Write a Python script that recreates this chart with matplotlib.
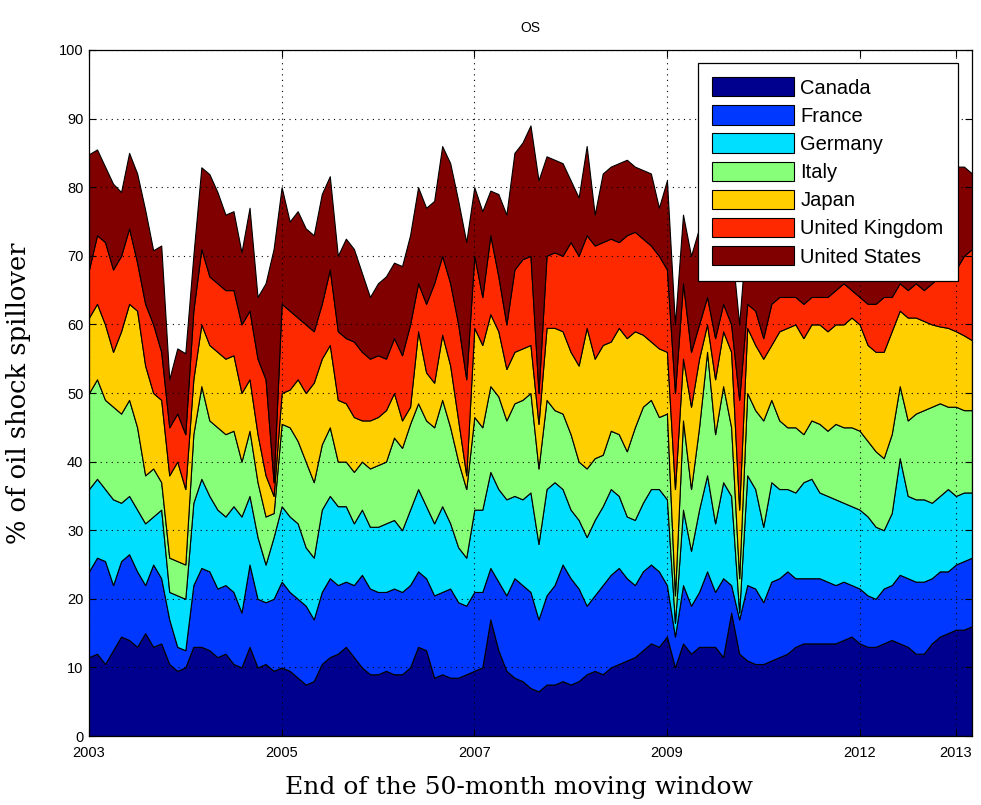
import numpy as np
import matplotlib
matplotlib.use("Agg")
import matplotlib.pyplot as plt

# ---- data: upper edge (cumulative %) of each band, monthly steps ----
countries = ["Canada", "France", "Germany", "Italy", "Japan", "United Kingdom", "United States"]
tick_pos = [0, 24, 48, 72, 96, 108]
tick_labels = ["2003", "2005", "2007", "2009", "2012", "2013"]

level_canada = [11.5, 12, 10.5, 12.5, 14.5, 14, 13, 15, 13, 13.5, 10.5, 9.5, 10, 13, 13, 12.5, 11.5, 12,
                10.5, 10, 13, 10, 10.5, 9.5, 10, 9.5, 8.5, 7.5, 8, 10.5, 11.5, 12, 13, 11.5, 10, 9, 9,
                9.5, 9, 9, 10, 13, 12.5, 8.5, 9, 8.5, 8.5, 9, 9.5, 10, 17, 12.5, 9.5, 8.5, 8, 7,
                6.5, 7.5, 7.5, 8, 7.5, 8, 9, 9.5, 9, 10, 10.5, 11, 11.5, 12.5, 13.5, 13, 14.5, 10,
                13.5, 12, 13, 13, 13, 11.5, 18, 12, 11, 10.5, 10.5, 11, 11.5, 12, 13, 13.5, 13.5, 13.5, 13.5,
                13.5, 14, 14.5, 13.5, 13, 13, 13.5, 14, 13.5, 13, 12, 12, 13.5, 14.5, 15, 15.5, 15.5, 16]
level_france = [24, 26, 25.5, 22, 25.5, 26.5, 24, 22, 25, 23, 17, 13, 12.5, 22, 24.5, 24, 21.5, 22,
                21, 18, 25, 20, 19.5, 20, 22.5, 21, 20, 19, 17, 21, 23, 22, 22.5, 22, 23.5, 21.5, 21,
                21, 21.5, 21, 22, 24, 23, 20.5, 21, 21.5, 19.5, 19, 21, 21, 24.5, 22.5, 20.5, 23, 22, 21,
                17, 20.5, 22, 25, 23, 21.5, 19, 20.5, 22, 23.5, 24.5, 23, 22, 24, 25, 24, 22, 14.5,
                22, 19, 21, 24, 21, 23, 22, 17, 22, 21.5, 19.5, 22.5, 23, 24, 23, 23, 23, 23, 22.5,
                22, 22.5, 22, 21.5, 20.5, 20, 21.5, 22, 23.5, 23, 22.5, 22.5, 23, 24, 24, 25, 25.5, 26]
level_germany = [36, 37.5, 36, 34.5, 34, 35, 33, 31, 32, 33, 21, 20.5, 20, 34, 37.5, 35, 33, 32,
                 33.5, 32, 35, 29, 25, 29, 33.5, 32, 31, 27.5, 26, 33, 35, 33.5, 33.5, 31, 33, 30.5, 30.5,
                 31, 31.5, 30, 33, 36, 33.5, 31, 33.5, 31, 27.5, 26, 33, 33, 38.5, 36, 34.5, 35, 34.5, 35.5,
                 28, 36, 37, 36, 33, 31.5, 29, 31.5, 33.5, 36, 35, 32, 31.5, 34, 36, 36, 34.5, 16.5,
                 33, 27, 33, 38, 31, 37, 35, 18, 38, 36, 30.5, 37, 36, 36, 35.5, 37, 37.5, 35.5, 35,
                 34.5, 34, 33.5, 33, 32, 30.5, 30, 32.5, 40.5, 35, 34.5, 34.5, 34, 35, 36, 35, 35.5, 35.5]
level_italy = [50, 52, 49, 48, 47, 49, 45, 38, 39, 37, 26, 25.5, 25, 44, 51, 46, 45, 44,
               44.5, 40, 44.5, 37, 32, 32.5, 45.5, 45, 43, 40, 37, 42.5, 45, 40, 40, 38.5, 40, 39, 39.5,
               40, 43.5, 42, 45.5, 48.5, 46, 45, 49, 45, 40, 36, 46.5, 45, 51, 49.5, 46, 48.5, 49, 50,
               39, 49, 47.5, 47, 44, 40, 39, 40.5, 41, 44.5, 44, 41.5, 45, 48, 49, 46.5, 47, 20.5,
               46, 36, 45, 56, 44, 51, 45, 23, 50, 47.5, 46, 49, 46, 45, 45, 44, 46, 45.5, 44.5,
               45.5, 45, 45, 44.5, 43, 41.5, 40.5, 44, 51, 46, 47, 47.5, 48, 48.5, 48, 48, 47.5, 47.5]
level_japan = [61, 63, 60, 56, 59, 63, 62, 54, 50, 49, 38, 40, 36, 52, 60, 57, 56, 55,
               55.5, 50, 52, 44, 38, 35, 50, 50.5, 52, 50, 51.5, 55, 57, 49, 48.5, 46.5, 46, 46, 46.5,
               47.5, 50, 46, 48, 59, 53, 51.5, 58.5, 54, 46, 38, 59.5, 57, 61.5, 59, 53.5, 56, 56.5, 57,
               45.5, 59.5, 59.5, 59, 56, 54, 59.5, 55, 57, 57.5, 59.5, 58, 59, 58.5, 57.5, 56.5, 56, 36,
               55, 48, 55, 60, 52, 59, 56, 33, 59.5, 57, 55, 57, 59, 59.5, 60, 58, 60, 60, 59,
               60, 60, 61, 60, 57, 56, 56, 59, 62, 61, 61, 60.5, 60, 59.7, 59.5, 59, 58.4, 57.7]
level_uk = [68, 73, 72, 68, 70, 74, 69, 63, 60, 56, 45, 47, 44, 62, 71, 67, 66, 65,
            65, 60, 62, 55, 52, 37, 63, 62, 61, 60, 59, 63, 68, 59, 58, 57.5, 56, 55, 55.5,
            55, 58, 55.5, 60, 66, 63, 66, 70, 66, 60, 52, 70, 64, 73, 67, 60, 68, 69.5, 70,
            50, 70, 70.5, 70, 72, 70, 73, 71.5, 72, 72.5, 72, 73, 73.5, 72.5, 71.5, 70, 68, 50,
            66, 56, 60, 64, 58, 63, 60, 49, 63, 62, 58, 63, 64, 64, 64, 63, 64, 64, 64,
            65, 66, 65, 64, 63, 63, 64, 64, 66, 65, 66, 65, 66, 67, 67, 68, 70, 71]
level_us = [84.8, 85.5, 83, 80.5, 79.3, 85, 82, 76.7, 70.8, 71.5, 52, 56.5, 55.8, 70, 82.9, 81.9, 79.3, 76,
            76.5, 70.5, 77, 64, 66, 71, 80, 75, 76.5, 74, 73, 79, 81.6, 70, 72.5, 71, 67.5, 64, 66,
            67, 69, 68.5, 73, 80, 77, 78, 86, 83.5, 78, 72, 80, 76.5, 79.5, 79, 76, 85, 86.5, 89,
            81, 84.5, 84, 83.5, 81, 78.5, 86, 76, 82, 83, 83.5, 84, 83, 82.5, 82, 77, 81, 60,
            76, 70, 74, 76, 74, 74, 72, 60, 75, 76, 75, 76, 77, 78, 77, 77, 77, 78, 78,
            78, 79, 78, 78, 77, 76, 77, 77, 79, 78, 79, 79, 80, 80, 81, 83, 83, 82]

levels = np.array([level_canada, level_france, level_germany, level_italy,
                   level_japan, level_uk, level_us])
shares = np.diff(np.vstack([np.zeros(levels.shape[1]), levels]), axis=0)
x = np.arange(levels.shape[1])

# MATLAB-style jet colours sampled across the seven bands
colors = [(0.0, 0.0, 0.5625), (0.0, 0.22, 1.0), (0.0, 0.875, 1.0), (0.53, 1.0, 0.47),
          (1.0, 0.81, 0.0), (1.0, 0.16, 0.0), (0.5, 0.0, 0.0)]

fig = plt.figure(figsize=(9.81, 8.05), dpi=100)
ax = fig.add_axes([0.0907, 0.0857, 0.9001, 0.8522])

polys = ax.stackplot(x, shares, labels=countries, colors=colors,
                     edgecolor="black", linewidth=0.8)

ax.set_xlim(0, x[-1])
ax.set_ylim(0, 100)
ax.set_xticks(tick_pos)
ax.set_xticklabels(tick_labels)
ax.set_yticks(np.arange(0, 101, 10))

for lab in ax.get_xticklabels() + ax.get_yticklabels():
    lab.set_fontfamily("Liberation Sans")
    lab.set_fontsize(10.5)

ax.tick_params(direction="in", length=5, width=0.8, top=True, right=True)
ax.tick_params(axis="x", pad=7)
ax.tick_params(axis="y", pad=4)
ax.grid(True, color="black", linestyle=(0, (1, 4)), linewidth=0.8)
ax.set_axisbelow(False)
for sp in ax.spines.values():
    sp.set_linewidth(0.9)

ax.set_title("OS", family="Liberation Sans", fontsize=10, pad=13)
ax.set_xlabel("End of the 50-month moving window", family="DejaVu Serif", fontsize=18)
ax.xaxis.set_label_coords(0.487, -0.058)
ax.set_ylabel("% of oil shock spillover", family="DejaVu Serif", fontsize=18.5)
ax.yaxis.set_label_coords(-0.066, 0.5)

leg = ax.legend(loc="upper right", bbox_to_anchor=(0.984, 0.981), fancybox=False,
                framealpha=1, edgecolor="black", prop=dict(family="Liberation Sans", size=14.5),
                handlelength=4.1, handleheight=1.1, labelspacing=0.38, handletextpad=0.3,
                borderpad=0.7, borderaxespad=0)
leg.get_frame().set_linewidth(0.9)

fig.savefig("out.png", dpi=100)
